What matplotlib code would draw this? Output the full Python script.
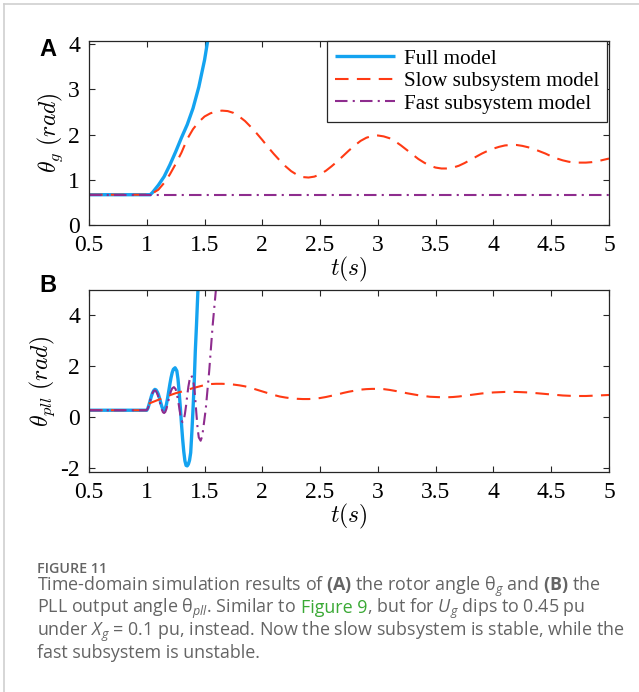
import numpy as np
import matplotlib
matplotlib.use("Agg")
import matplotlib.pyplot as plt
from matplotlib.lines import Line2D

# ── data ──────────────────────────────────────────────────────────────────────

# (A) rotor angle theta_g
a_full_t = [0.5, 1.0, 1.03, 1.05, 1.1, 1.15, 1.2, 1.25, 1.3, 1.35, 1.4, 1.45, 1.5, 1.53]
a_full_v = [0.67, 0.67, 0.67, 0.72, 0.88, 1.07, 1.33, 1.62, 1.93, 2.22, 2.58, 3.05, 3.65, 4.12]

a_slow_t = [0.5, 1.0, 1.03, 1.1, 1.15, 1.2, 1.25, 1.3, 1.35, 1.4, 1.45, 1.5, 1.55, 1.6,
            1.65, 1.7, 1.75, 1.8, 1.85, 1.9, 1.95, 2.0, 2.05, 2.1, 2.15, 2.2, 2.25, 2.3,
            2.35, 2.4, 2.45, 2.5, 2.55, 2.6, 2.65, 2.7, 2.75, 2.8, 2.85, 2.9, 2.95, 3.0,
            3.05, 3.1, 3.15, 3.2, 3.25, 3.3, 3.35, 3.4, 3.45, 3.5, 3.55, 3.6, 3.65, 3.7,
            3.75, 3.8, 3.85, 3.9, 3.95, 4.0, 4.05, 4.1, 4.15, 4.2, 4.25, 4.3, 4.35, 4.4,
            4.45, 4.5, 4.55, 4.6, 4.65, 4.7, 4.75, 4.8, 4.85, 4.9, 4.95, 5.0]
a_slow_v = [0.67, 0.67, 0.67, 0.78, 0.93, 1.12, 1.35, 1.6, 1.9, 2.12, 2.28, 2.4, 2.47, 2.51,
            2.53, 2.52, 2.48, 2.4, 2.3, 2.17, 2.03, 1.88, 1.72, 1.57, 1.43, 1.3, 1.19, 1.11,
            1.06, 1.05, 1.07, 1.12, 1.2, 1.3, 1.41, 1.53, 1.65, 1.76, 1.86, 1.93, 1.97, 1.98,
            1.96, 1.92, 1.85, 1.76, 1.66, 1.56, 1.46, 1.38, 1.31, 1.27, 1.25, 1.25, 1.27, 1.31,
            1.37, 1.44, 1.51, 1.58, 1.64, 1.69, 1.73, 1.76, 1.77, 1.77, 1.75, 1.72, 1.68, 1.63,
            1.58, 1.52, 1.47, 1.43, 1.40, 1.38, 1.38, 1.38, 1.39, 1.41, 1.44, 1.47]

a_fast_t = [0.5, 5.0]
a_fast_v = [0.67, 0.67]

# (B) PLL output angle theta_pll
b_full_t = [0.5, 1.0, 1.01, 1.02, 1.03, 1.04, 1.05, 1.06, 1.07, 1.08, 1.09, 1.1, 1.11,
            1.12, 1.13, 1.14, 1.15, 1.16, 1.17, 1.18, 1.19, 1.2, 1.21, 1.22, 1.23, 1.245,
            1.26, 1.27, 1.28, 1.29, 1.3, 1.31, 1.32, 1.33, 1.34, 1.35, 1.36, 1.37, 1.38,
            1.39, 1.4, 1.41, 1.42, 1.43, 1.44, 1.445]
b_full_v = [0.27, 0.27, 0.35, 0.5, 0.66, 0.82, 0.95, 1.04, 1.09, 1.07, 1.0, 0.9, 0.75,
            0.58, 0.42, 0.3, 0.27, 0.34, 0.5, 0.74, 1.02, 1.3, 1.55, 1.75, 1.88, 1.94,
            1.82, 1.5, 1.0, 0.4, -0.25, -0.85, -1.35, -1.72, -1.9, -1.92, -1.85, -1.7, -1.4,
            -0.6, 0.3, 1.3, 2.6, 3.6, 4.7, 5.2]

b_slow_t = [0.5, 1.0, 1.0, 1.05, 1.1, 1.15, 1.2, 1.25, 1.3, 1.35, 1.4, 1.45, 1.5, 1.55,
            1.6, 1.65, 1.7, 1.75, 1.8, 1.85, 1.9, 1.95, 2.0, 2.05, 2.1, 2.15, 2.2, 2.25,
            2.3, 2.35, 2.4, 2.45, 2.5, 2.55, 2.6, 2.65, 2.7, 2.75, 2.8, 2.85, 2.9, 2.95,
            3.0, 3.05, 3.1, 3.15, 3.2, 3.25, 3.3, 3.35, 3.4, 3.45, 3.5, 3.55, 3.6, 3.65,
            3.7, 3.75, 3.8, 3.85, 3.9, 3.95, 4.0, 4.05, 4.1, 4.15, 4.2, 4.25, 4.3, 4.35,
            4.4, 4.45, 4.5, 4.55, 4.6, 4.65, 4.7, 4.75, 4.8, 4.85, 4.9, 4.95, 5.0]
b_slow_v = [0.27, 0.27, 0.5, 0.59, 0.68, 0.77, 0.86, 0.94, 1.0, 1.07, 1.14, 1.2, 1.26, 1.3,
            1.31, 1.31, 1.3, 1.28, 1.25, 1.21, 1.15, 1.08, 1.01, 0.94, 0.87, 0.81, 0.77, 0.74,
            0.72, 0.71, 0.71, 0.72, 0.75, 0.79, 0.84, 0.89, 0.95, 1.0, 1.04, 1.08, 1.1, 1.11,
            1.11, 1.1, 1.07, 1.03, 0.99, 0.94, 0.9, 0.86, 0.83, 0.8, 0.79, 0.78, 0.78, 0.79,
            0.81, 0.84, 0.87, 0.9, 0.93, 0.95, 0.97, 0.98, 0.99, 0.99, 0.99, 0.98, 0.97, 0.95,
            0.93, 0.91, 0.89, 0.87, 0.85, 0.84, 0.83, 0.83, 0.83, 0.84, 0.85, 0.86, 0.87]

b_fast_t = [0.5, 1.0, 1.01, 1.02, 1.03, 1.04, 1.05, 1.06, 1.07, 1.08, 1.09, 1.1, 1.11,
            1.12, 1.13, 1.14, 1.15, 1.16, 1.17, 1.18, 1.19, 1.2, 1.21, 1.22, 1.235, 1.25,
            1.26, 1.27, 1.28, 1.29, 1.3, 1.31, 1.32, 1.33, 1.34, 1.35, 1.36, 1.37, 1.385,
            1.4, 1.41, 1.42, 1.43, 1.44, 1.45, 1.466, 1.48, 1.49, 1.5, 1.51, 1.52, 1.53,
            1.54, 1.55, 1.56, 1.57, 1.58, 1.59, 1.6]
b_fast_v = [0.27, 0.27, 0.35, 0.5, 0.66, 0.82, 0.95, 1.03, 1.05, 1.02, 0.93, 0.8, 0.64,
            0.47, 0.3, 0.19, 0.16, 0.2, 0.32, 0.5, 0.7, 0.88, 1.03, 1.13, 1.18, 1.1,
            0.92, 0.68, 0.4, 0.1, -0.12, -0.2, -0.12, 0.12, 0.45, 0.85, 1.2, 1.45, 1.64,
            1.5, 1.2, 0.7, 0.1, -0.45, -0.8, -0.93, -0.75, -0.4, -0.05, 0.3, 0.8, 1.3,
            1.8, 2.4, 3.0, 3.6, 4.1, 4.6, 5.1]

x_ticks = [0.5, 1, 1.5, 2, 2.5, 3, 3.5, 4, 4.5, 5]
x_ticklabels = ["0.5", "1", "1.5", "2", "2.5", "3", "3.5", "4", "4.5", "5"]
a_yticks = [0, 1, 2, 3, 4]
b_yticks = [-2, 0, 2, 4]
series_labels = ["Full model", "Slow subsystem model", "Fast subsystem model"]

C_FULL = "#14a3f0"
C_SLOW = "#ff3a14"
C_FAST = "#8e2c8e"

# ── figure ────────────────────────────────────────────────────────────────────

W, H = 639, 692
plt.rcParams["mathtext.fontset"] = "custom"
plt.rcParams["mathtext.rm"] = "Open Sans"
plt.rcParams["mathtext.it"] = "Open Sans:italic"
plt.rcParams["mathtext.bf"] = "Open Sans:bold"

fig = plt.figure(figsize=(W / 100, H / 100), dpi=100)
fig.patch.set_facecolor("white")


def px_axes(left, top, right, bottom):
    return fig.add_axes([left / W, 1 - bottom / H, (right - left) / W, (bottom - top) / H])


def style_axes(ax, yticks, ylim):
    ax.set_xlim(0.5, 5)
    ax.set_ylim(*ylim)
    ax.set_xticks(x_ticks)
    ax.set_xticklabels(x_ticklabels)
    ax.set_yticks(yticks)
    ax.set_yticklabels([str(v) for v in yticks])
    ax.tick_params(direction="in", length=4, width=0.8, top=True, right=True,
                   labelsize=17, colors="#262626")
    ax.tick_params(axis="x", pad=7.5)
    ax.tick_params(axis="y", pad=6.5)
    for lab in ax.get_xticklabels() + ax.get_yticklabels():
        lab.set_fontfamily("Liberation Serif")
        lab.set_color("black")
    for sp in ax.spines.values():
        sp.set_color("#262626")
        sp.set_linewidth(0.9)


def draw_series(ax, full, slow, fast):
    l1, = ax.plot(*full, color=C_FULL, lw=2.4, solid_capstyle="butt")
    l2, = ax.plot(*slow, color=C_SLOW, lw=1.5, dashes=(6.5, 4))
    l3, = ax.plot(*fast, color=C_FAST, lw=1.5, dashes=(6, 2.5, 1, 2.5))
    return [l1, l2, l3]


# panel A
ax1 = px_axes(89, 41, 609, 225)
lines = draw_series(ax1, (a_full_t, a_full_v), (a_slow_t, a_slow_v), (a_fast_t, a_fast_v))
style_axes(ax1, a_yticks, (0, 4.07))
ax1.set_xlabel(r"$t(s)$", fontsize=17, math_fontfamily="cm", labelpad=-1)
ax1.set_ylabel(r"$\theta_g\ (rad)$", fontsize=17, math_fontfamily="cm", labelpad=2.5)
leg = ax1.legend(lines, series_labels, loc="upper right", bbox_to_anchor=(0.996, 1.0),
                 borderaxespad=0, fancybox=False, framealpha=1, edgecolor="#262626",
                 prop={"family": "Liberation Serif", "size": 15.2},
                 handlelength=2.85, handletextpad=0.4, labelspacing=0.13,
                 borderpad=0.38)
leg.get_frame().set_linewidth(0.9)

# panel B
ax2 = px_axes(89, 290, 609, 472)
draw_series(ax2, (b_full_t, b_full_v), (b_slow_t, b_slow_v), (b_fast_t, b_fast_v))
style_axes(ax2, b_yticks, (-2.16, 5.0))
ax2.set_xlabel(r"$t(s)$", fontsize=17, math_fontfamily="cm", labelpad=-1)
ax2.set_ylabel(r"$\theta_{pll}\ (rad)$", fontsize=17, math_fontfamily="cm", labelpad=2.5)

for lbl, y in (("A", 50), ("B", 286)):
    fig.text(48 / W, 1 - y / H, lbl, fontsize=17, fontweight="bold",
             family="Liberation Sans", ha="center", va="center")

# light frame round the figure panel
fig.add_artist(Line2D([4 / W, 1], [1 - 4 / H] * 2, transform=fig.transFigure,
                      color="#cfcfcf", lw=1.2))
fig.add_artist(Line2D([4 / W] * 2, [0, 1 - 4 / H], transform=fig.transFigure,
                      color="#cfcfcf", lw=1.2))

# ── caption ───────────────────────────────────────────────────────────────────

CAP = "#646464"
GREEN = "#3aa935"
cap_kw = dict(family=["Open Sans", "DejaVu Sans"], fontsize=12.9, math_fontfamily="custom")

fig.text(37 / W, 1 - 573 / H, "FIGURE 11", color=CAP, family=["Open Sans", "DejaVu Sans"],
         fontsize=10.3, fontweight="semibold", va="baseline")

renderer = fig.canvas.get_renderer()
space_px = 4.8


def caption_line(segs, y_px, x_px=37):
    x = x_px
    for text, color, gap in segs:
        x += space_px if gap else 0
        t = fig.text(x / W, 1 - y_px / H, text, color=color, va="baseline", ha="left", **cap_kw)
        x = t.get_window_extent(renderer).x1


caption_line([(r"Time-domain simulation results of $\mathbf{(A)}$ the rotor angle θ$_{g}$"
               r" and $\mathbf{(B)}$ the", CAP, False)], 591)
caption_line([(r"PLL output angle θ$_{pll}$. Similar to", CAP, False),
              ("Figure 9", GREEN, True),
              (r", but for $U_g$ dips to 0.45 pu", CAP, False)], 613)
caption_line([(r"under $X_g$ = 0.1 pu, instead. Now the slow subsystem is stable, while the",
               CAP, False)], 636)
caption_line([("fast subsystem is unstable.", CAP, False)], 658)

fig.savefig("out.png", dpi=100)
